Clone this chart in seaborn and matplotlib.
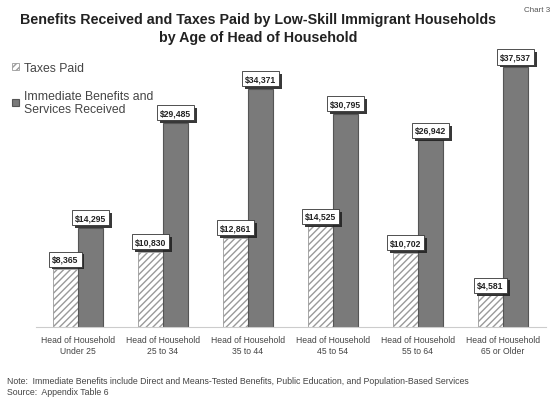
import matplotlib
matplotlib.use("Agg")
import matplotlib.pyplot as plt
import matplotlib.patheffects as pe
import seaborn as sns
import pandas as pd

age_groups = ["Head of Household\nUnder 25", "Head of Household\n25 to 34",
              "Head of Household\n35 to 44", "Head of Household\n45 to 54",
              "Head of Household\n55 to 64", "Head of Household\n65 or Older"]
taxes_paid = [8365, 10830, 12861, 14525, 10702, 4581]
benefits_received = [14295, 29485, 34371, 30795, 26942, 37537]
series_names = ["Taxes Paid", "Immediate Benefits and\nServices Received"]

df = pd.DataFrame({
    "age": age_groups * 2,
    "value": taxes_paid + benefits_received,
    "series": [series_names[0]] * len(age_groups) + [series_names[1]] * len(age_groups),
})

sns.set_theme(style="white")
plt.rcParams["font.family"] = ["Liberation Sans", "DejaVu Sans"]
plt.rcParams["hatch.color"] = "#9a9a9a"
plt.rcParams["hatch.linewidth"] = 1.0

fig = plt.figure(figsize=(5.56, 4.02), dpi=100)
ax = fig.add_axes([35.5 / 556, 1 - 328 / 402, 510 / 556, 277 / 402])

sns.barplot(data=df, x="age", y="value", hue="series", order=age_groups,
            hue_order=series_names, palette=["white", "#7a7a7a"],
            width=0.59, saturation=1, legend=False, ax=ax)

tax_bars = ax.containers[0]
ben_bars = ax.containers[1]
for bar in tax_bars:
    bar.set_hatch("/////")
    bar.set_edgecolor("#9a9a9a")
    bar.set_linewidth(0.6)
for bar in ben_bars:
    bar.set_edgecolor("#555555")
    bar.set_linewidth(0.8)

# value labels in boxed callouts with a drop shadow
for container, values in ((tax_bars, taxes_paid), (ben_bars, benefits_received)):
    for bar, v in zip(container, values):
        t = ax.annotate(f"${v:,}", (bar.get_x() + bar.get_width() / 2, v),
                        xytext=(0, 4), textcoords="offset points",
                        ha="center", va="bottom", fontsize=6.2, fontweight="bold",
                        color="#222222",
                        bbox=dict(boxstyle="square,pad=0.35", fc="white",
                                  ec="#333333", lw=0.6))
        t.get_bbox_patch().set_path_effects(
            [pe.SimplePatchShadow(offset=(2, -2), shadow_rgbFace="#222222", alpha=0.9),
             pe.Normal()])

ax.set_ylim(0, 40000)
ax.set_xlim(-0.5, len(age_groups) - 0.5)
ax.set_xlabel("")
ax.set_ylabel("")
ax.set_yticks([])
ax.tick_params(axis="x", length=0, labelsize=6.2, labelcolor="#444444", pad=6)
for lbl in ax.get_xticklabels():
    lbl.set_linespacing(1.3)
for side in ("top", "left", "right"):
    ax.spines[side].set_visible(False)
ax.spines["bottom"].set_color("#cccccc")
ax.spines["bottom"].set_linewidth(0.8)

# legend
handles = [tax_bars[0], ben_bars[0]]
leg = fig.legend(handles, series_names, loc="upper left",
                 bbox_to_anchor=(7 / 556, 1 - 58 / 402), frameon=False,
                 fontsize=8.8, handlelength=0.6, handleheight=0.6,
                 handletextpad=0.4, labelspacing=1.3, borderaxespad=0)
for txt in leg.get_texts():
    txt.set_color("#444444")
    txt.set_linespacing(1.1)

fig.text(258 / 556, 1 - 20 / 402, "Benefits Received and Taxes Paid by Low-Skill Immigrant Households",
         ha="center", va="center", fontsize=10.3, fontweight="bold", color="#222222")
fig.text(258 / 556, 1 - 38 / 402, "by Age of Head of Household",
         ha="center", va="center", fontsize=10.3, fontweight="bold", color="#222222")
fig.text(537 / 556, 1 - 10 / 402, "Chart 3", ha="center", va="center",
         fontsize=5.8, color="#555555")

fig.text(7 / 556, 1 - 382 / 402,
         "Note:  Immediate Benefits include Direct and Means-Tested Benefits, Public Education, and Population-Based Services",
         ha="left", va="center", fontsize=6.3, color="#444444")
fig.text(7 / 556, 1 - 393 / 402, "Source:  Appendix Table 6",
         ha="left", va="center", fontsize=6.3, color="#444444")

fig.savefig("out.png", dpi=100)
